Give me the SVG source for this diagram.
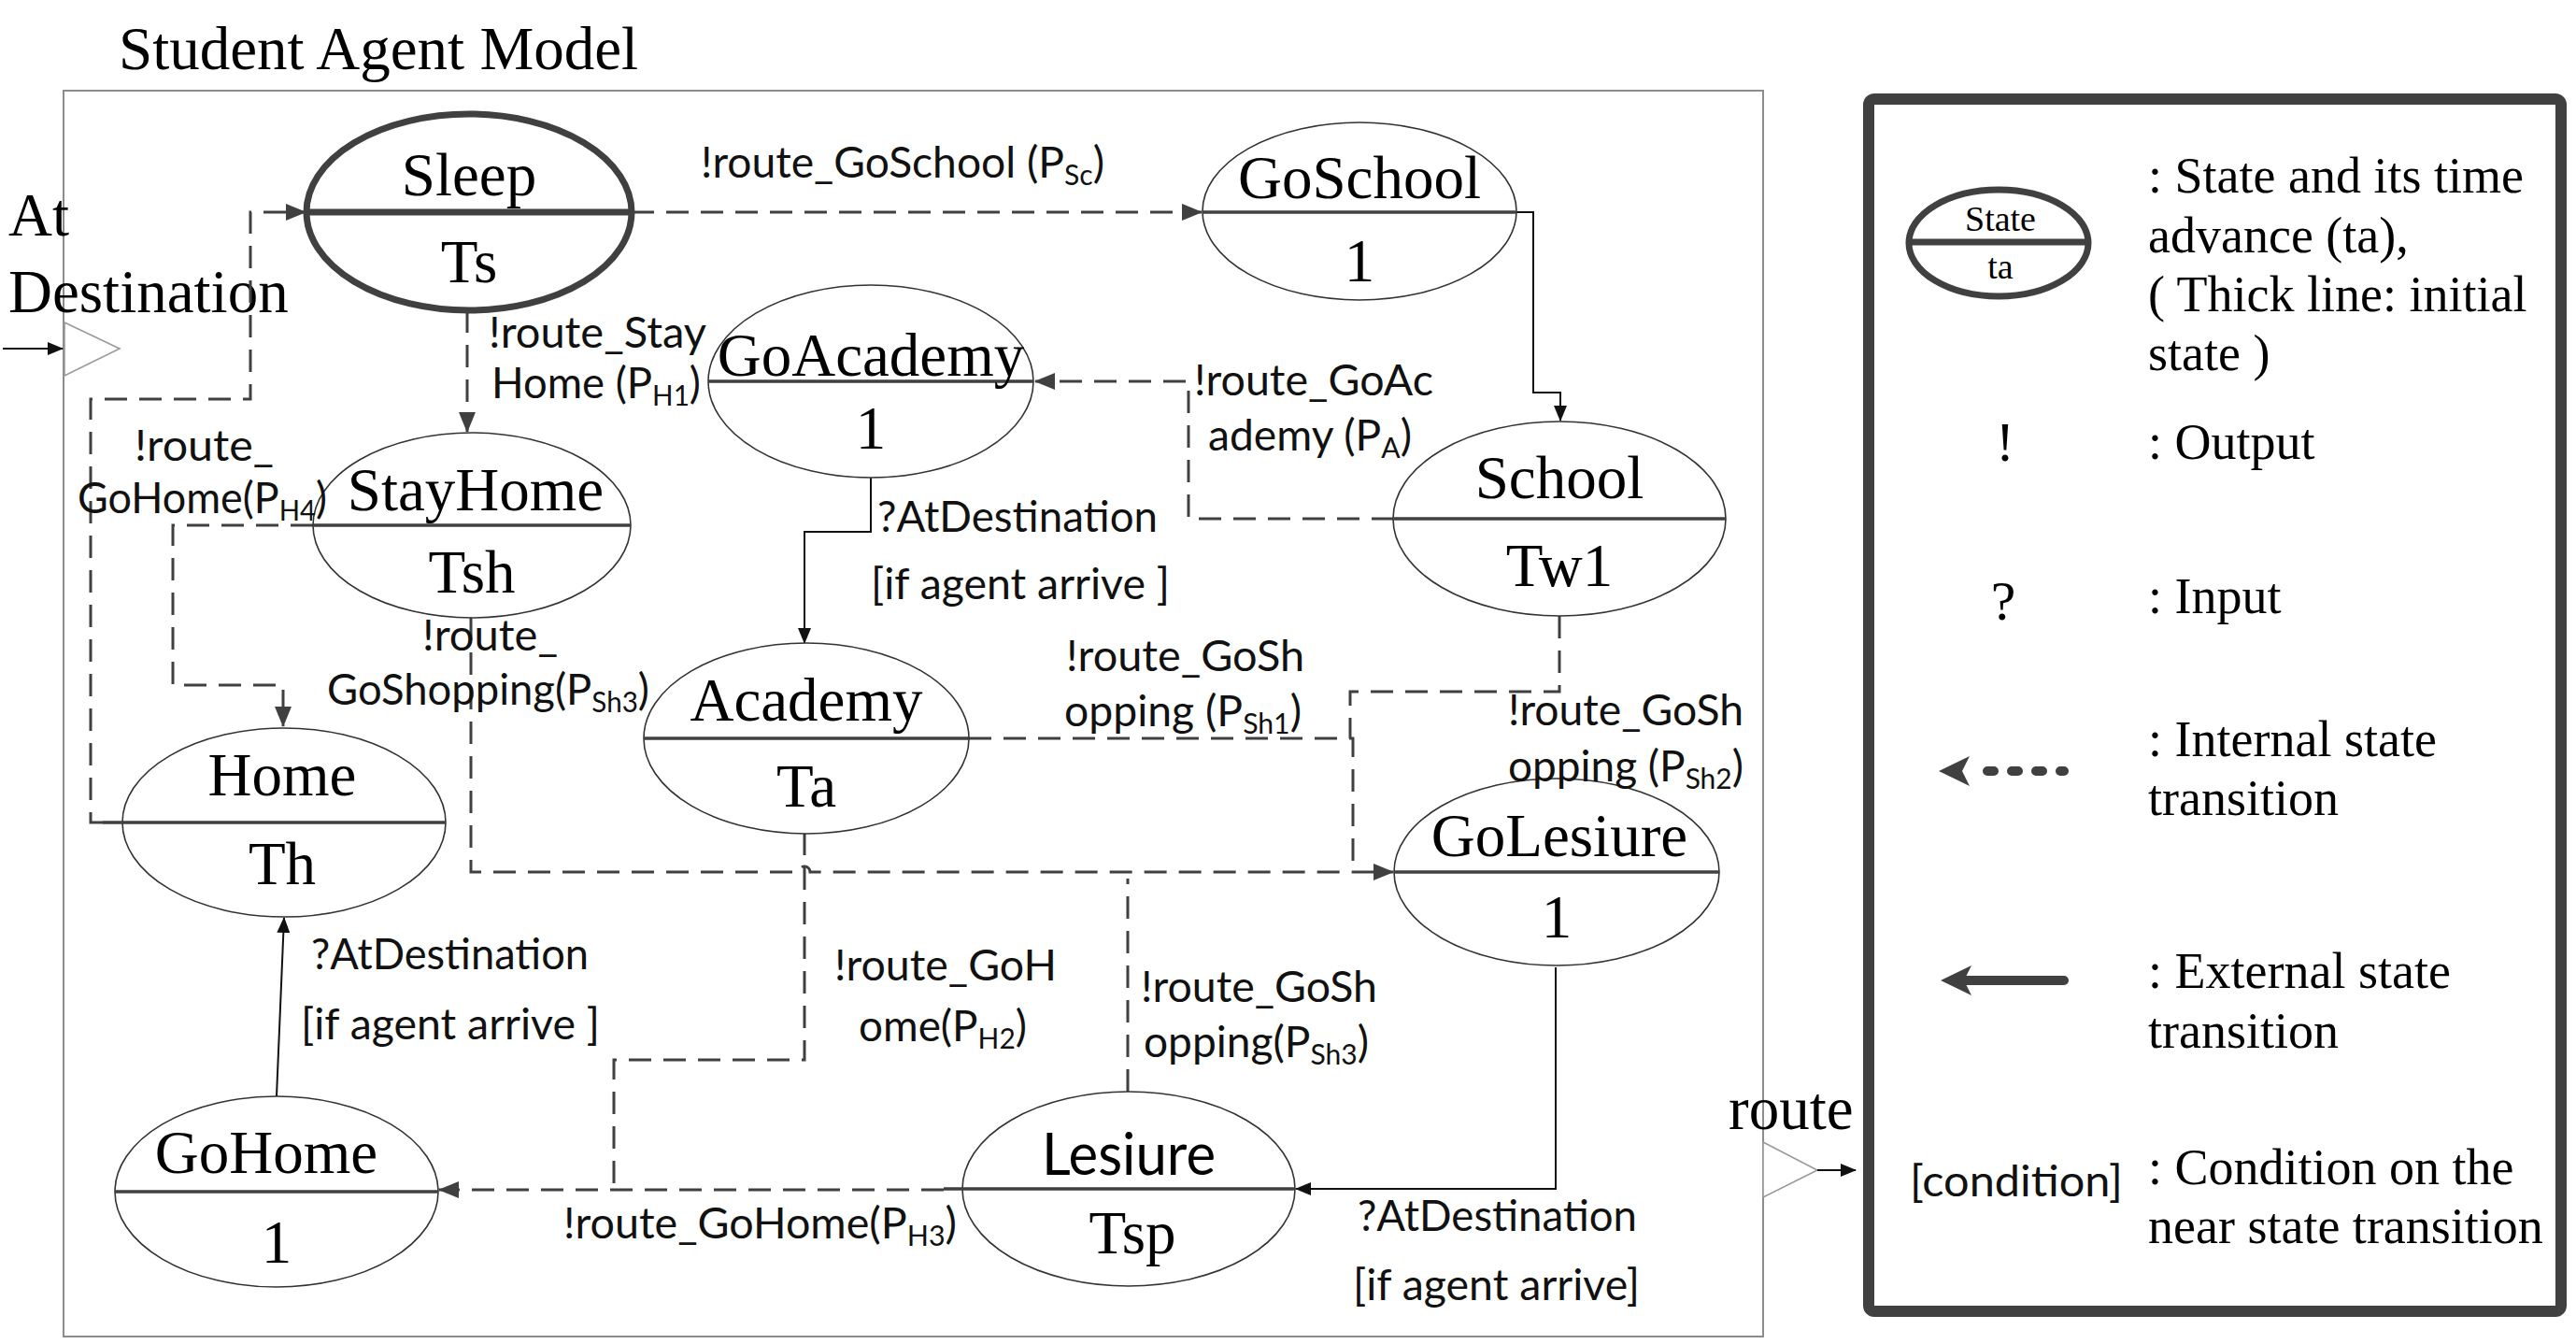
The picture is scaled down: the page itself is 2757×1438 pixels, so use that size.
<svg xmlns="http://www.w3.org/2000/svg" width="2757" height="1438" viewBox="0 0 2757 1438">
<style>
.bg{fill:#fff}
.frame{fill:none;stroke:#8c8c8c;stroke-width:2}
.st{fill:#fff;stroke:#333;stroke-width:1.6}
.st0{fill:#fff;stroke:#404040;stroke-width:7}
.dv{stroke:#404040;stroke-width:3.5}
.dv0{stroke:#404040;stroke-width:7}
.nm{font-family:"Liberation Serif","Times New Roman",serif;font-size:65px;fill:#000;text-anchor:middle}
.nms{font-family:Lato,"Liberation Sans",sans-serif;font-size:62px;fill:#000;text-anchor:middle}
.lb{font-family:Lato,"Liberation Sans",sans-serif;font-size:46px;fill:#111}
.sub{font-size:30px}
.dash{fill:none;stroke:#404040;stroke-width:3;stroke-dasharray:24 13}
.sol{fill:none;stroke:#111;stroke-width:2}
.port{fill:#fff;stroke:#999;stroke-width:1.6}
.lg{font-family:"Liberation Serif","Times New Roman",serif;font-size:54px;fill:#000}
.ttl{font-family:"Liberation Serif","Times New Roman",serif;font-size:65px;fill:#000}
</style>
<defs>
<marker id="arrD" markerUnits="userSpaceOnUse" markerWidth="22" markerHeight="18" refX="21" refY="9" orient="auto"><path d="M0,0 L22,9 L0,18 z" fill="#404040"/></marker>
<marker id="arrS" markerUnits="userSpaceOnUse" markerWidth="17" markerHeight="14" refX="16" refY="7" orient="auto"><path d="M0,0 L17,7 L0,14 z" fill="#111"/></marker>
</defs>
<rect class="bg" x="0" y="0" width="2757" height="1438"/>
<text class="ttl" x="127" y="74">Student Agent Model</text>
<rect class="frame" x="68" y="97" width="1819" height="1333"/>

<g id="ports">
<text class="ttl" x="9" y="252">At</text>
<text class="ttl" x="9" y="334">Destination</text>
<polygon class="port" points="69,345 128,373 69,402"/>
<text class="ttl" x="1850" y="1208">route</text>
<polygon class="port" points="1887,1222 1945,1252 1887,1281"/>
</g>

<g id="connectors">
<path class="sol" d="M3,373 H67" marker-end="url(#arrS)"/>
<path class="sol" d="M1945,1252 H1986" marker-end="url(#arrS)"/>
<path class="dash" d="M676,227 H1286" marker-end="url(#arrD)"/>
<path class="sol" d="M1622,227 H1641 V420 H1670 V450" marker-end="url(#arrS)"/>
<path class="dash" d="M1492,555 H1272 V408 H1108" marker-end="url(#arrD)"/>
<path class="dash" d="M500,332 V462" marker-end="url(#arrD)"/>
<path class="dash" d="M335,562 H185 V733 H303 V777" marker-end="url(#arrD)"/>
<path class="dash" d="M110,880 H97 V427 H268 V227 H327" marker-end="url(#arrD)"/>
<path class="sol" d="M932,511 V569 H861 V688" marker-end="url(#arrS)"/>
<path class="dash" d="M504,661 V933 H855 A6,6 0 0 1 867,933 H1491" marker-end="url(#arrD)"/>
<path class="dash" d="M1037,790 H1448 V933"/>
<path class="dash" d="M1669,659 V740 H1445 V790"/>
<path class="dash" d="M861,891 V1134 H657 V1273"/>
<path class="dash" d="M1207,1168 V940"/>
<path class="sol" d="M1665,1035 V1272 H1387" marker-end="url(#arrS)"/>
<path class="dash" d="M1010,1273 H470" marker-end="url(#arrD)"/>
<path class="sol" d="M296,1173 L304,982" marker-end="url(#arrS)"/>
</g>

<g id="node-sleep">
<ellipse class="st0" cx="502" cy="227" rx="174" ry="105"/>
<line class="dv0" x1="328" y1="227" x2="676" y2="227"/>
<text class="nm" x="502" y="209">Sleep</text>
<text class="nm" x="502" y="302">Ts</text>
</g>
<g id="node-goschool">
<ellipse class="st" cx="1455" cy="226" rx="168" ry="95"/>
<line class="dv" x1="1287" y1="227" x2="1622" y2="227"/>
<text class="nm" x="1455" y="212">GoSchool</text>
<text class="nm" x="1455" y="301">1</text>
</g>
<g id="node-goacademy">
<ellipse class="st" cx="932" cy="408" rx="174" ry="103"/>
<line class="dv" x1="758" y1="408" x2="1106" y2="408"/>
<text class="nm" x="932" y="402">GoAcademy</text>
<text class="nm" x="932" y="480">1</text>
</g>
<g id="node-school">
<ellipse class="st" cx="1669" cy="555" rx="178" ry="104"/>
<line class="dv" x1="1492" y1="555" x2="1847" y2="555"/>
<text class="nm" x="1669" y="533">School</text>
<text class="nm" x="1669" y="627">Tw1</text>
</g>
<g id="node-stayhome">
<ellipse class="st" cx="505" cy="562" rx="170" ry="99"/>
<line class="dv" x1="335" y1="562" x2="675" y2="562"/>
<text class="nm" x="509" y="546">StayHome</text>
<text class="nm" x="505" y="634">Tsh</text>
</g>
<g id="node-home">
<ellipse class="st" cx="304" cy="880" rx="173" ry="101"/>
<line class="dv" x1="110" y1="880" x2="477" y2="880"/>
<text class="nm" x="302" y="851">Home</text>
<text class="nm" x="302" y="946">Th</text>
</g>
<g id="node-academy">
<ellipse class="st" cx="863" cy="790" rx="174" ry="102"/>
<line class="dv" x1="689" y1="790" x2="1037" y2="790"/>
<text class="nm" x="863" y="771">Academy</text>
<text class="nm" x="863" y="863">Ta</text>
</g>
<g id="node-golesiure">
<ellipse class="st" cx="1666" cy="933" rx="174" ry="100"/>
<line class="dv" x1="1492" y1="933" x2="1840" y2="933"/>
<text class="nm" x="1669" y="916">GoLesiure</text>
<text class="nm" x="1666" y="1003">1</text>
</g>
<g id="node-lesiure">
<ellipse class="st" cx="1208" cy="1272" rx="178" ry="104"/>
<line class="dv" x1="1010" y1="1272" x2="1386" y2="1272"/>
<text class="nms" x="1208" y="1257" textLength="186" lengthAdjust="spacingAndGlyphs">Lesiure</text>
<text class="nm" x="1212" y="1341">Tsp</text>
</g>
<g id="node-gohome">
<ellipse class="st" cx="296" cy="1275" rx="173" ry="102"/>
<line class="dv" x1="123" y1="1275" x2="469" y2="1275"/>
<text class="nm" x="285" y="1255">GoHome</text>
<text class="nm" x="296" y="1351">1</text>
</g>

<g id="labels">
<text class="lb" x="750" y="190" textLength="432" lengthAdjust="spacingAndGlyphs">!route_GoSchool (P<tspan class="sub" dy="8">Sc</tspan><tspan dy="-8">)</tspan></text>
<text class="lb" x="523" y="372" textLength="233" lengthAdjust="spacingAndGlyphs">!route_Stay</text>
<text class="lb" x="526" y="426" textLength="224" lengthAdjust="spacingAndGlyphs">Home (P<tspan class="sub" dy="8">H1</tspan><tspan dy="-8">)</tspan></text>
<text class="lb" x="144" y="493" textLength="149" lengthAdjust="spacingAndGlyphs">!route_</text>
<text class="lb" x="83" y="549" textLength="267" lengthAdjust="spacingAndGlyphs">GoHome(P<tspan class="sub" dy="8">H4</tspan><tspan dy="-8">)</tspan></text>
<text class="lb" x="1278" y="423" textLength="256" lengthAdjust="spacingAndGlyphs">!route_GoAc</text>
<text class="lb" x="1293" y="482" textLength="218" lengthAdjust="spacingAndGlyphs">ademy (P<tspan class="sub" dy="8">A</tspan><tspan dy="-8">)</tspan></text>
<text class="lb" x="939" y="569" textLength="300" lengthAdjust="spacingAndGlyphs">?AtDestination</text>
<text class="lb" x="932" y="641" textLength="320" lengthAdjust="spacingAndGlyphs">[if agent arrive ]</text>
<text class="lb" x="452" y="696" textLength="145" lengthAdjust="spacingAndGlyphs">!route_</text>
<text class="lb" x="350" y="754" textLength="345" lengthAdjust="spacingAndGlyphs">GoShopping(P<tspan class="sub" dy="8">Sh3</tspan><tspan dy="-8">)</tspan></text>
<text class="lb" x="1141" y="718" textLength="255" lengthAdjust="spacingAndGlyphs">!route_GoSh</text>
<text class="lb" x="1139" y="777" textLength="254" lengthAdjust="spacingAndGlyphs">opping (P<tspan class="sub" dy="8">Sh1</tspan><tspan dy="-8">)</tspan></text>
<text class="lb" x="1614" y="776" textLength="252" lengthAdjust="spacingAndGlyphs">!route_GoSh</text>
<text class="lb" x="1614" y="836" textLength="252" lengthAdjust="spacingAndGlyphs">opping (P<tspan class="sub" dy="8">Sh2</tspan><tspan dy="-8">)</tspan></text>
<text class="lb" x="893" y="1049" textLength="238" lengthAdjust="spacingAndGlyphs">!route_GoH</text>
<text class="lb" x="919" y="1114" textLength="180" lengthAdjust="spacingAndGlyphs">ome(P<tspan class="sub" dy="8">H2</tspan><tspan dy="-8">)</tspan></text>
<text class="lb" x="1221" y="1072" textLength="253" lengthAdjust="spacingAndGlyphs">!route_GoSh</text>
<text class="lb" x="1224" y="1131" textLength="241" lengthAdjust="spacingAndGlyphs">opping(P<tspan class="sub" dy="8">Sh3</tspan><tspan dy="-8">)</tspan></text>
<text class="lb" x="1453" y="1317" textLength="299" lengthAdjust="spacingAndGlyphs">?AtDestination</text>
<text class="lb" x="1448" y="1391" textLength="307" lengthAdjust="spacingAndGlyphs">[if agent arrive]</text>
<text class="lb" x="333" y="1037" textLength="297" lengthAdjust="spacingAndGlyphs">?AtDestination</text>
<text class="lb" x="322" y="1112" textLength="320" lengthAdjust="spacingAndGlyphs">[if agent arrive ]</text>
<text class="lb" x="603" y="1325" textLength="421" lengthAdjust="spacingAndGlyphs">!route_GoHome(P<tspan class="sub" dy="8">H3</tspan><tspan dy="-8">)</tspan></text>
</g>

<g id="legend">
<rect x="2000" y="106" width="741" height="1297" rx="6" fill="#fff" stroke="#404040" stroke-width="12"/>
<ellipse cx="2139" cy="260" rx="96" ry="57" fill="#fff" stroke="#404040" stroke-width="7"/>
<line x1="2043" y1="259" x2="2235" y2="259" stroke="#404040" stroke-width="7"/>
<text class="lg" x="2141" y="247" text-anchor="middle" style="font-size:38px">State</text>
<text class="lg" x="2141" y="298" text-anchor="middle" style="font-size:38px">ta</text>
<text class="lg" x="2299" y="206">: State and its time</text>
<text class="lg" x="2299" y="270">advance (ta),</text>
<text class="lg" x="2299" y="333">( Thick line: initial</text>
<text class="lg" x="2299" y="396">state )</text>
<text class="lg" x="2146" y="493" text-anchor="middle" style="font-size:60px">!</text>
<text class="lg" x="2299" y="491">: Output</text>
<text class="lg" x="2144" y="663" text-anchor="middle" style="font-size:60px">?</text>
<text class="lg" x="2299" y="656">: Input</text>
<line x1="2127" y1="825" x2="2209" y2="825" stroke="#404040" stroke-width="10" stroke-linecap="round" stroke-dasharray="7 19"/>
<polygon points="2075,825 2108,809 2100,825 2108,841" fill="#404040"/>
<line x1="2100" y1="1049" x2="2209" y2="1049" stroke="#404040" stroke-width="10" stroke-linecap="round"/>
<polygon points="2077,1049 2110,1033 2102,1049 2110,1065" fill="#404040"/>
<text class="lg" x="2299" y="809">: Internal state</text>
<text class="lg" x="2299" y="872">transition</text>
<text class="lg" x="2299" y="1057">: External state</text>
<text class="lg" x="2299" y="1121">transition</text>
<text class="lb" x="2044" y="1280" textLength="228" lengthAdjust="spacingAndGlyphs">[condition]</text>
<text class="lg" x="2299" y="1267">: Condition on the</text>
<text class="lg" x="2299" y="1330">near state transition</text>
</g>
</svg>
